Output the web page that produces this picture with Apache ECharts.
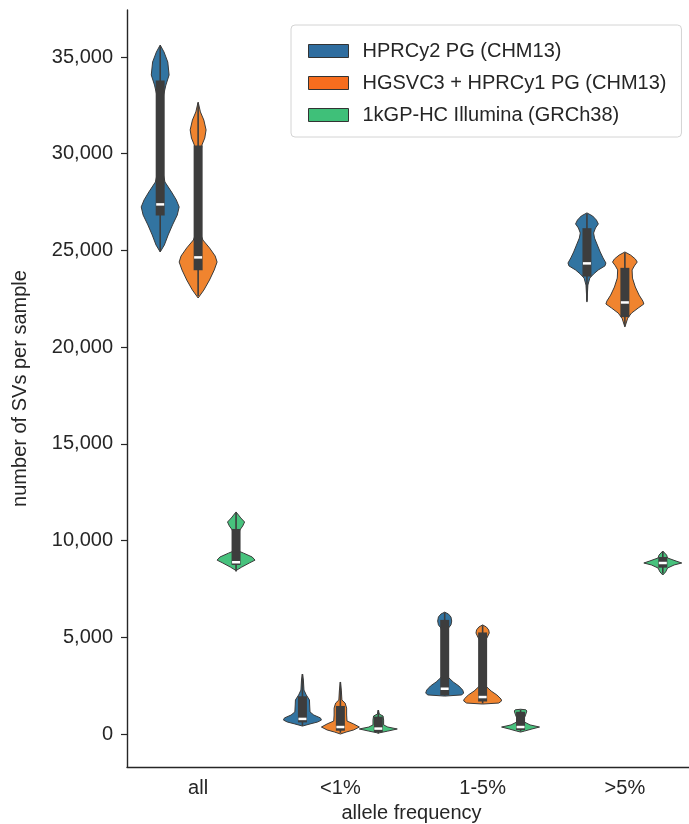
<!DOCTYPE html>
<html>
<head>
<meta charset="utf-8">
<script src="https://cdn.jsdelivr.net/npm/echarts@6/dist/echarts.min.js"></script>
<style>
html,body{margin:0;padding:0;background:#fff;}
#chart{width:689px;height:824px;}
</style>
</head>
<body>
<div id="chart"></div>
<script>
const categories = ['all', '<1%', '1-5%', '>5%'];
const seriesNames = ['HPRCy2 PG (CHM13)', 'HGSVC3 + HPRCy1 PG (CHM13)', '1kGP-HC Illumina (GRCh38)'];
const yTicks = [0, 5000, 10000, 15000, 20000, 25000, 30000, 35000];

// inner box stats per category: [whiskerLow, q1, median, q3, whiskerHigh]
const hprcy2Box = [[24950, 26800, 27380, 33780, 35550], [420, 600, 780, 1950, 3100], [1980, 2000, 2340, 5900, 6280], [22400, 23650, 24330, 26150, 26900]];
const hgsvc3Box = [[22650, 23970, 24640, 30420, 32620], [60, 170, 360, 1450, 2680], [1580, 1680, 1910, 5250, 5620], [21100, 21550, 22310, 24100, 24880]];
const kgpBox = [[8400, 8740, 8880, 10600, 11420], [20, 100, 280, 900, 1230], [130, 200, 360, 1150, 1250], [8300, 8600, 8840, 9150, 9420]];

// violin outlines per category: [value, relative half-width]
const hprcy2Shape = [
  [[35620,0],[35260,0.2],[34740,0.4],[34070,0.47],[33550,0.3],[33040,0.18],[32500,0.15],[29000,0.15],[28540,0.25],[28020,0.6],[27610,0.85],[27250,1.0],[26830,0.9],[26320,0.65],[25800,0.42],[25280,0.22],[24920,0]],
  [[3100,0],[2790,0.05],[2270,0.08],[2020,0.2],[1760,0.37],[1500,0.38],[1140,0.4],[980,0.6],[830,0.95],[720,1.0],[620,0.8],[520,0.4],[410,0]],
  [[6300,0],[6200,0.2],[6050,0.33],[5840,0.37],[5640,0.33],[5480,0.2],[5300,0.15],[3000,0.15],[2900,0.22],[2690,0.45],[2480,0.75],[2270,0.95],[2120,1.0],[2020,0.9],[1960,0]],
  [[26940,0],[26780,0.3],[26570,0.5],[26370,0.6],[26160,0.45],[25900,0.35],[25640,0.4],[25280,0.55],[24920,0.7],[24610,0.85],[24350,1.0],[24200,0.95],[23990,0.6],[23780,0.35],[23570,0.15],[23210,0.05],[22330,0]]
];
const hgsvc3Shape = [
  [[32670,0],[32160,0.12],[31740,0.3],[31230,0.42],[30810,0.35],[30450,0.2],[30000,0.15],[25800,0.15],[25540,0.25],[25130,0.6],[24710,0.9],[24400,1.0],[23990,0.85],[23470,0.6],[22950,0.3],[22540,0]],
  [[2690,0],[2270,0.05],[1760,0.08],[1600,0.25],[1340,0.33],[980,0.33],[670,0.35],[520,0.7],[360,1.0],[210,0.7],[100,0.3],[0,0]],
  [[5640,0],[5530,0.2],[5380,0.32],[5220,0.35],[5010,0.25],[4860,0.16],[4600,0.15],[2500,0.15],[2430,0.22],[2220,0.45],[2020,0.75],[1810,0.97],[1710,1.0],[1600,0.85],[1550,0]],
  [[24920,0],[24760,0.3],[24560,0.55],[24400,0.65],[24200,0.5],[23990,0.38],[23570,0.4],[23110,0.55],[22690,0.75],[22380,0.95],[22230,1.0],[22020,0.7],[21760,0.35],[21500,0.15],[21040,0]]
];
const kgpShape = [
  [[11480,0],[11170,0.25],[10960,0.45],[10750,0.35],[10550,0.2],[10300,0.15],[9450,0.15],[9350,0.4],[9150,0.85],[8990,1.0],[8840,0.7],[8630,0.3],[8450,0]],
  [[1240,0],[1030,0.05],[930,0.25],[720,0.28],[470,0.28],[360,0.5],[260,1.0],[150,0.5],[50,0]],
  [[1280,0],[1250,0.28],[1190,0.33],[1030,0.28],[830,0.2],[620,0.2],[470,0.5],[360,1.0],[260,0.6],[150,0.2],[100,0]],
  [[9460,0],[9250,0.2],[9100,0.25],[8940,0.7],[8840,1.0],[8740,0.6],[8580,0.25],[8380,0.15],[8220,0]]
];

const violinColors = ['#3274a1', '#f0842f', '#47c27d'];
const legendColors = ['#2f6d9f', '#f76d1e', '#3fc079'];
const boxes = [hprcy2Box, hgsvc3Box, kgpBox];
const shapes = [hprcy2Shape, hgsvc3Shape, kgpShape];

const FONT = 'Liberation Sans';
const DARK = '#3d3d3d';

function makeRender(hue) {
  return function (params, api) {
    const ci = api.value(0);
    const band = api.size([1, 0])[0];
    const slot = band * 0.8 / 3;
    const cx = api.coord([ci, 0])[0] + (hue - 1) * slot;
    const half = slot / 2;
    const prof = shapes[hue][ci];
    const right = [], left = [];
    prof.forEach(function (p) {
      const y = api.coord([ci, p[0]])[1];
      right.push([cx + p[1] * half, y]);
      left.push([cx - p[1] * half, y]);
    });
    const pts = right.concat(left.reverse());
    const yLo = api.coord([ci, api.value(1)])[1];
    const yQ1 = api.coord([ci, api.value(2)])[1];
    const yMed = api.coord([ci, api.value(3)])[1];
    const yQ3 = api.coord([ci, api.value(4)])[1];
    const yHi = api.coord([ci, api.value(5)])[1];
    return {
      type: 'group',
      children: [
        { type: 'polygon', shape: { points: pts }, style: { fill: violinColors[hue], stroke: '#3a3a3a', lineWidth: 1 } },
        { type: 'line', shape: { x1: cx, y1: yLo, x2: cx, y2: yHi }, style: { stroke: DARK, lineWidth: 1.6 } },
        { type: 'rect', shape: { x: cx - 4.5, y: yQ3, width: 9, height: yQ1 - yQ3 }, style: { fill: DARK } },
        { type: 'rect', shape: { x: cx - 4, y: yMed - 1.25, width: 8, height: 2.5 }, style: { fill: '#ffffff' } }
      ]
    };
  };
}

const series = seriesNames.map(function (name, h) {
  return {
    type: 'custom',
    name: name,
    renderItem: makeRender(h),
    itemStyle: { color: violinColors[h] },
    encode: { x: 0, y: [1, 2, 3, 4, 5] },
    data: categories.map(function (c, i) { return [i].concat(boxes[h][i]); }),
    clip: false
  };
});

const chart = echarts.init(document.getElementById('chart'), null, { renderer: 'canvas' });
chart.setOption({
  animation: false,
  backgroundColor: '#ffffff',
  grid: { left: 127, right: -7, top: 10, bottom: 57, containLabel: false, outerBoundsMode: 'none' },
  legend: {
    orient: 'vertical',
    left: 291,
    top: 25,
    padding: [16, 15, 12, 17],
    itemGap: 12,
    itemWidth: 40,
    itemHeight: 13,
    icon: 'rect',
    backgroundColor: '#ffffff',
    borderColor: '#d4d4d4',
    borderWidth: 1,
    borderRadius: 4,
    selectedMode: false,
    itemStyle: { borderColor: '#333', borderWidth: 1 },
    textStyle: { fontFamily: FONT, fontSize: 20, color: '#262626', padding: [0, 0, 0, 9] },
    data: seriesNames.map(function (n, i) { return { name: n, itemStyle: { color: legendColors[i] } }; })
  },
  xAxis: {
    type: 'category',
    data: categories,
    boundaryGap: true,
    name: 'allele frequency',
    nameLocation: 'middle',
    nameGap: 36,
    nameTextStyle: { fontFamily: FONT, fontSize: 20, color: '#262626' },
    axisLine: { onZero: false, lineStyle: { color: '#262626', width: 1.4 } },
    axisTick: { alignWithLabel: true, length: 6, lineStyle: { color: '#262626', width: 1.2 } },
    axisLabel: { fontFamily: FONT, fontSize: 20, color: '#262626', margin: 11 },
    splitLine: { show: false }
  },
  yAxis: {
    type: 'value',
    min: -1706,
    max: 37430,
    name: 'number of SVs per sample',
    nameLocation: 'middle',
    nameRotate: 90,
    nameGap: 97,
    nameTextStyle: { fontFamily: FONT, fontSize: 20, color: '#262626' },
    axisLine: { show: true, onZero: false, lineStyle: { color: '#262626', width: 1.4 } },
    axisTick: { show: true, length: 6, customValues: yTicks, lineStyle: { color: '#262626', width: 1.2 } },
    axisLabel: {
      fontFamily: FONT, fontSize: 20, color: '#262626', margin: 14,
      customValues: yTicks,
      formatter: function (v) { return Number(v).toLocaleString('en-US'); }
    },
    splitLine: { show: false }
  },
  series: series
});
</script>
</body>
</html>
